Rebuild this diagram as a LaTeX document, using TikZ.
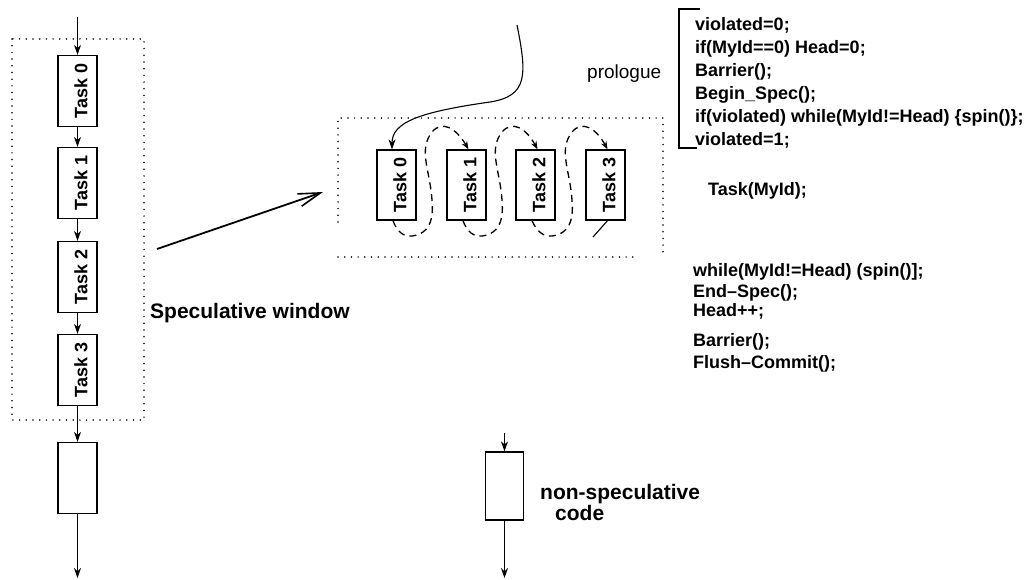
\documentclass[tikz,border=0pt]{standalone}
\usepackage{fontspec}
\setmainfont{Liberation Sans}
\usetikzlibrary{arrows.meta,calc}

\begin{document}
\begin{tikzpicture}[x=1pt,y=-1pt,
  taskbox/.style={draw, line width=1.3pt, minimum width=39pt, minimum height=71pt,
    inner sep=0pt, font=\bfseries\fontsize{18}{18}\selectfont},
  midbox/.style={taskbox, minimum height=70pt},
  flow/.style={line width=1.1pt, -{Stealth[length=10pt,width=7pt]}},
  window/.style={line width=1.7pt, line cap=round, dash pattern=on 0pt off 6.7pt},
  handoff/.style={line width=1.3pt, dash pattern=on 7pt off 5pt,
    -{Stealth[length=8pt,width=6pt]}},
  code/.style={anchor=base west, inner sep=0pt, font=\bfseries\fontsize{18}{18}\selectfont},
  bigtext/.style={anchor=base west, inner sep=0pt, font=\bfseries\fontsize{21}{21}\selectfont},
]
\useasboundingbox (0,0) rectangle (1035,580);

% ---------- sequential view: tasks in a row ----------
\draw[window] (12,39) rectangle (144,420);
\node[taskbox] (c0) at (77.5,91)  {\hspace*{7pt}\rotatebox{90}{Task 0}};
\node[taskbox] (c1) at (77.5,183) {\hspace*{7pt}\rotatebox{90}{Task 1}};
\node[taskbox] (c2) at (77.5,277) {\hspace*{7pt}\rotatebox{90}{Task 2}};
\node[taskbox] (c3) at (77.5,370) {\hspace*{7pt}\rotatebox{90}{Task 3}};
\node[taskbox] (cn) at (77.5,478) {};
\coordinate (cin)  at (77.5,17);
\coordinate (cout) at (77.5,578);
\draw[flow] (cin) -- (c0);
\draw[flow] (c0) -- (c1);
\draw[flow] (c1) -- (c2);
\draw[flow] (c2) -- (c3);
\draw[flow] (c3) -- (cn);
\draw[flow] (cn) -- (cout);

\node[bigtext] (sw) at (150,318) {Speculative window};

% ---------- expansion arrow ----------
\coordinate (bs) at (157,249);
\coordinate (bt) at (323,192);
\draw[line width=1.8pt, -{Straight Barb[length=22pt,width=13pt,line width=1.6pt]}] (bs) -- (bt);

% ---------- parallel view: tasks side by side ----------
\draw[window] (338,222) -- (338,118) -- (663,118) -- (663,257);
\draw[window] (338,257) -- (637,257);
\node[midbox] (m0) at (396.5,185) {\hspace*{7pt}\rotatebox{90}{Task 0}};
\node[midbox] (m1) at (466.5,185) {\hspace*{7pt}\rotatebox{90}{Task 1}};
\node[midbox] (m2) at (535.5,185) {\hspace*{7pt}\rotatebox{90}{Task 2}};
\node[midbox] (m3) at (605.5,185) {\hspace*{7pt}\rotatebox{90}{Task 3}};

\coordinate (pin) at (517,25);
\draw[flow] (pin) .. controls (527,75) and (528,96) .. (490,102)
  .. controls (420,112) and (392,122) .. ([xshift=-4.5pt]m0.north);

% hand-over of the head token from one task to the next
\foreach \a/\b [count=\k from 0] in {m0/m1, m1/m2, m2/m3}{
  \begin{scope}[shift={(70*\k,0)}]
    \draw[handoff] ([xshift=-3.5pt]\a.south)
      .. controls (397,232) and (404,237) .. (412,236)
      .. controls (428,234) and (434,222) .. (432,200)
      .. controls (430,170) and (418,150) .. (432,132)
      .. controls (442,120) and (456,128) .. ([xshift=2pt]\b.north);
  \end{scope}
}
\coordinate (tail) at (593,237);
\draw[line width=1.1pt] ([xshift=2pt]m3.south) -- (tail);

% ---------- code executed by every task ----------
\node[anchor=base west, inner sep=0pt, font=\fontsize{19}{19}\selectfont] (pro) at (587,79) {prologue};
\draw[line width=1.3pt] (700,9) -- (679,9) -- (679,148) -- (697,148);
\node[code] (l1) at (695,30.5)  {violated=0;};
\node[code] (l2) at (695,53.5)  {if(MyId==0) Head=0;};
\node[code] (l3) at (695,76.5)  {Barrier();};
\node[code] (l4) at (695,99.5)  {Begin\_Spec();};
\node[code] (l5) at (695,122.5) {if(violated) while(MyId!=Head) \{spin()\};};
\node[code] (l6) at (695,145.5) {violated=1;};
\node[code] (l7) at (708,196)   {Task(MyId);};
\node[code] (l8) at (693,276)   {while(MyId!=Head) (spin()];};
\node[code] (l9) at (693,297)   {End–Spec();};
\node[code] (l10) at (693,316)  {Head++;};
\node[code] (l11) at (693,346)  {Barrier();};
\node[code] (l12) at (693,368)  {Flush–Commit();};

% ---------- legend ----------
\node[taskbox, minimum width=38pt, minimum height=68pt] (ns) at (504.5,486) {};
\coordinate (nsin)  at (504.5,433);
\coordinate (nsout) at (504.5,578);
\draw[flow] (nsin) -- (ns);
\draw[flow] (ns) -- (nsout);
\node[bigtext] (nst) at (540,499) {non-speculative};
\node[bigtext] (nsc) at (555,520) {code};
\end{tikzpicture}
\end{document}
